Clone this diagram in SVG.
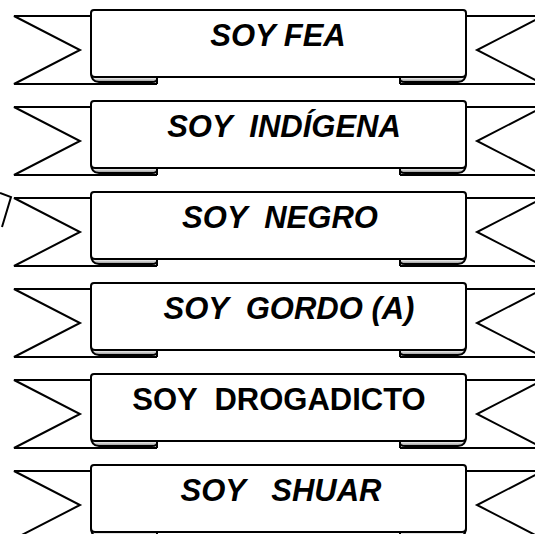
<svg xmlns="http://www.w3.org/2000/svg" xmlns:xlink="http://www.w3.org/1999/xlink" width="535" height="534" viewBox="0 0 535 534">
<style>
.ln{fill:none;stroke:#000;stroke-width:2;stroke-linejoin:miter}
.box{fill:#fff;stroke:#000;stroke-width:2}
.fold{fill:url(#fg);stroke:#000;stroke-width:2}
.t{font-family:"Liberation Sans",Arial,sans-serif;font-weight:bold;font-style:italic;font-size:31px;fill:#000;text-anchor:middle;white-space:pre}
.n{font-style:normal}
</style>
<defs>
<linearGradient id="fg" x1="0" y1="0" x2="0" y2="1">
<stop offset="0" stop-color="#fff"/>
<stop offset="0.6" stop-color="#eee"/>
<stop offset="1" stop-color="#888"/>
</linearGradient>
<g id="banner">
<polyline class="ln" points="91,16 14,16 80,50 14,84 157,84"/>
<polyline class="ln" points="466,16 543,16 477,50 543,84 400,84"/>
<path class="fold" d="M91,72 Q91,82 99,82 L152,82 Q157,82 157,79 L157,76 Z"/>
<path class="fold" d="M466,72 Q466,82 458,82 L405,82 Q400,82 400,79 L400,76 Z"/>
<line class="ln" x1="157" y1="76" x2="157" y2="84"/>
<line class="ln" x1="400" y1="76" x2="400" y2="84"/>
<path class="box" d="M94,10 L463,10 Q466,10 466,13 L466,73 Q466,77 462,77 L95,77 Q91,77 91,73 L91,13 Q91,10 94,10 Z"/>
</g>
</defs>
<g id="connectors"></g>
<path class="ln" d="M0,193 L11,197 L2,227"/>
<g id="b1"><use href="#banner"/><text class="t" x="278" y="46">SOY FEA</text></g>
<g id="b2" transform="translate(0,91)"><use href="#banner"/><text class="t" x="284" y="46">SOY  INDÍGENA</text></g>
<g id="b3" transform="translate(0,182)"><use href="#banner"/><text class="t" x="280" y="46">SOY  NEGRO</text></g>
<g id="b4" transform="translate(0,273)"><use href="#banner"/><text class="t" x="289" y="46">SOY  GORDO (A)</text></g>
<g id="b5" transform="translate(0,364)"><use href="#banner"/><text class="t n" x="279" y="46">SOY  DROGADICTO</text></g>
<g id="b6" transform="translate(0,455)"><use href="#banner"/><text class="t" x="281" y="46">SOY   SHUAR</text></g>
</svg>
